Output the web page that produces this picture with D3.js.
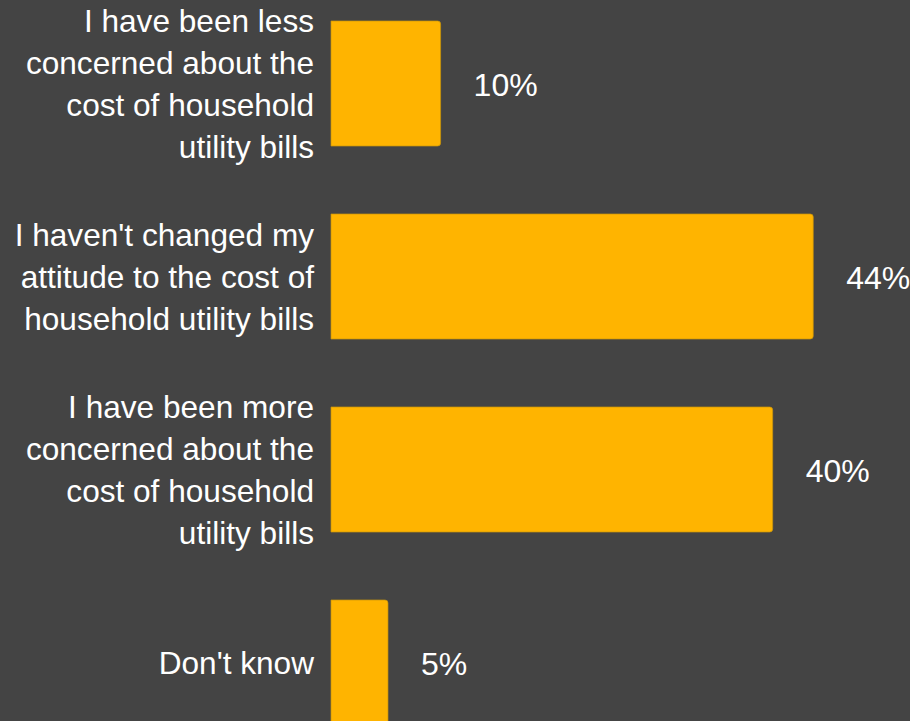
<!DOCTYPE html>
<html>
<head>
<meta charset="utf-8">
<script src="https://cdn.jsdelivr.net/npm/d3@7"></script>
<style>
  html, body { margin: 0; padding: 0; background: #444444; overflow: hidden; }
  #chart { width: 910px; height: 721px; }
</style>
</head>
<body>
<div id="chart"></div>
<script>
var categories = [
  ["I have been less", "concerned about the", "cost of household", "utility bills"],
  ["I haven't changed my", "attitude to the cost of", "household utility bills"],
  ["I have been more", "concerned about the", "cost of household", "utility bills"],
  ["Don't know"]
];
// bar lengths (labels are rounded)
var values = [10, 44, 40.3, 5.2];
var valueLabels = ["10%", "44%", "40%", "5%"];

var render = function() {
  let width = 910;
  let height = 721;
  let left = 331;
  let font = "'Liberation Sans', Arial, sans-serif";

  d3.select("#chart").html("");

  let svg = d3.select("#chart")
  .append("svg")
  .attr("width", width)
  .attr("height", height);

  svg.append("rect")
  .attr("width", width)
  .attr("height", height)
  .attr("fill", "#444444");

  let keys = categories.map((c) => c.join(" "));

  let yScale = d3.scaleBand()
  .domain(keys)
  .range([-13, 759])
  .paddingInner(68 / 193)
  .paddingOuter(34 / 193);

  let xScale = d3.scaleLinear()
  .domain([0, 50])
  .range([0, 548]);

  let rows = values.map((v, i) => ({ key: keys[i], lines: categories[i], value: v, label: valueLabels[i] }));

  let barPath = function (d) {
    let x0 = left, y0 = yScale(d.key);
    let w = xScale(d.value), h = yScale.bandwidth(), r = 3;
    return "M" + x0 + "," + y0 +
      "H" + (x0 + w - r) +
      "Q" + (x0 + w) + "," + y0 + " " + (x0 + w) + "," + (y0 + r) +
      "V" + (y0 + h - r) +
      "Q" + (x0 + w) + "," + (y0 + h) + " " + (x0 + w - r) + "," + (y0 + h) +
      "H" + x0 + "Z";
  };

  svg.selectAll(".bar")
  .data(rows)
  .enter()
  .append("path")
  .attr("class", "bar")
  .attr("d", barPath)
  .attr("fill", "#FFB400")
  .attr("stroke", "#c99408")
  .attr("stroke-width", 1)
  .attr("stroke-opacity", 0.7);

  // category labels, right aligned
  let lineH = 42;
  let cats = svg.selectAll(".cat")
  .data(rows)
  .enter()
  .append("text")
  .attr("class", "cat")
  .attr("text-anchor", "end")
  .attr("fill", "#ffffff")
  .style("font-family", font)
  .style("font-size", "31.6px");

  cats.selectAll("tspan")
  .data((d) => d.lines.map((t, i) => ({ t: t, i: i, n: d.lines.length, c: yScale(d.key) + yScale.bandwidth() / 2 })))
  .enter()
  .append("tspan")
  .attr("x", 314)
  .attr("y", (l) => l.c + (l.i - (l.n - 1) / 2) * lineH + 11)
  .text((l) => l.t);

  // value labels
  svg.selectAll(".val")
  .data(rows)
  .enter()
  .append("text")
  .attr("class", "val")
  .attr("x", (d) => left + xScale(d.value) + 33)
  .attr("y", (d) => yScale(d.key) + yScale.bandwidth() / 2 + 12)
  .attr("fill", "#ffffff")
  .style("font-family", font)
  .style("font-size", "32px")
  .text((d) => d.label);
};

render();
</script>
</body>
</html>
